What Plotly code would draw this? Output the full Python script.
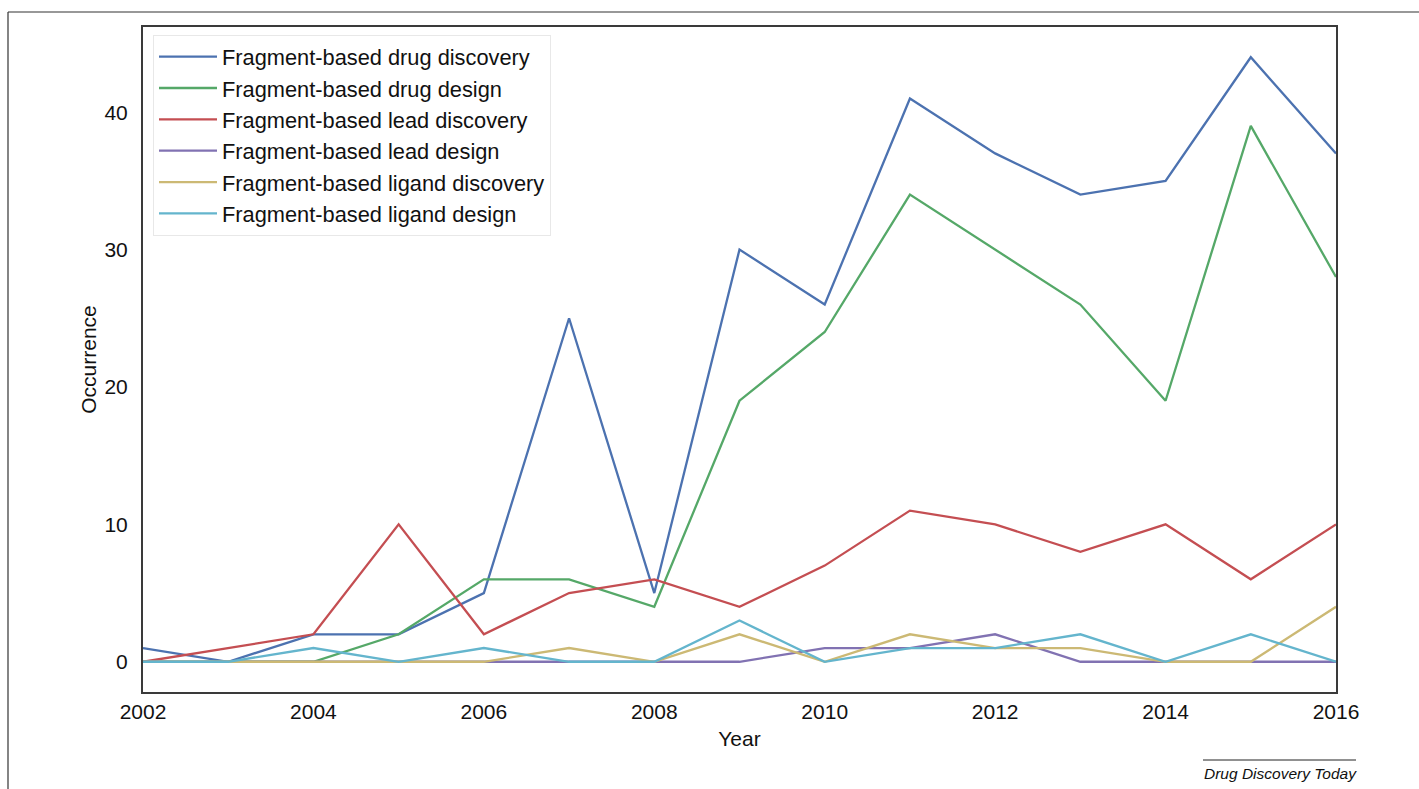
import plotly.graph_objects as go

# Yearly occurrence of each search term
years = list(range(2002, 2017))
drug_discovery = [1, 0, 2, 2, 5, 25, 5, 30, 26, 41, 37, 34, 35, 44, 37]
drug_design = [0, 0, 0, 2, 6, 6, 4, 19, 24, 34, 30, 26, 19, 39, 28]
lead_discovery = [0, 1, 2, 10, 2, 5, 6, 4, 7, 11, 10, 8, 10, 6, 10]
lead_design = [0, 0, 0, 0, 0, 0, 0, 0, 1, 1, 2, 0, 0, 0, 0]
ligand_discovery = [0, 0, 0, 0, 0, 1, 0, 2, 0, 2, 1, 1, 0, 0, 4]
ligand_design = [0, 0, 1, 0, 1, 0, 0, 3, 0, 1, 1, 2, 0, 2, 0]

series_names = [
    "Fragment-based drug discovery",
    "Fragment-based drug design",
    "Fragment-based lead discovery",
    "Fragment-based lead design",
    "Fragment-based ligand discovery",
    "Fragment-based ligand design",
]
series_values = [drug_discovery, drug_design, lead_discovery,
                 lead_design, ligand_discovery, ligand_design]
colors = ["#4C72B0", "#55A868", "#C44E52", "#8172B2", "#CCB974", "#64B5CD"]

x_ticks = [2002, 2004, 2006, 2008, 2010, 2012, 2014, 2016]
y_ticks = [0, 10, 20, 30, 40]

W, H = 1419, 789
L, R, T, B = 143, 1336, 27, 692  # plot area in pixels

fig = go.Figure()
for name, vals, col in zip(series_names, series_values, colors):
    fig.add_trace(go.Scatter(x=years, y=vals, name=name, mode="lines",
                             line=dict(color=col, width=2.3)))

def px_x(p):
    return (p - L) / (R - L)

def px_y(p):
    return (B - p) / (B - T)

font = "Liberation Sans, Arial, Helvetica, sans-serif"

fig.update_layout(
    width=W, height=H,
    margin=dict(l=L, r=W - R, t=T, b=H - B),
    paper_bgcolor="white", plot_bgcolor="white",
    font=dict(family=font, size=21, color="#111"),
    showlegend=True,
    legend=dict(
        x=px_x(153), y=px_y(35), xanchor="left", yanchor="top",
        bgcolor="white", bordercolor="#e8e8e8", borderwidth=1,
        font=dict(size=21.8, family=font, color="#111"),
        tracegroupgap=0, itemwidth=58,
    ),
    xaxis=dict(
        range=[2002, 2016], tickvals=x_ticks, ticktext=[str(v) for v in x_ticks],
        showgrid=False, zeroline=False, showline=True, mirror=True,
        linecolor="#3a3a3a", linewidth=2, ticks="",
        tickfont=dict(size=21), ticklabelstandoff=0,
        title=dict(text="Year", font=dict(size=21), standoff=9),
    ),
    yaxis=dict(
        range=[-2.2, 46.2], tickvals=y_ticks,
        showgrid=False, zeroline=False, showline=True, mirror=True,
        linecolor="#3a3a3a", linewidth=2, ticks="",
        tickfont=dict(size=21), ticklabelstandoff=9,
        title=dict(text="Occurrence", font=dict(size=21), standoff=2),
    ),
    shapes=[
        # outer page frame: top and left rules
        dict(type="line", xref="paper", yref="paper",
             x0=px_x(8), x1=px_x(W), y0=px_y(12), y1=px_y(12),
             line=dict(color="#333", width=1.2)),
        dict(type="line", xref="paper", yref="paper",
             x0=px_x(8), x1=px_x(8), y0=px_y(12), y1=px_y(H),
             line=dict(color="#333", width=1.2)),
        # rule above the journal credit
        dict(type="line", xref="paper", yref="paper",
             x0=px_x(1203), x1=px_x(1356), y0=px_y(760), y1=px_y(760),
             line=dict(color="#222", width=1)),
    ],
    annotations=[
        dict(text="<i>Drug Discovery Today</i>", xref="paper", yref="paper",
             x=px_x(1359), y=px_y(773), xanchor="right", yanchor="middle",
             showarrow=False, font=dict(size=15.5, family=font, color="#111")),
    ],
)

fig.write_html("out.html")
